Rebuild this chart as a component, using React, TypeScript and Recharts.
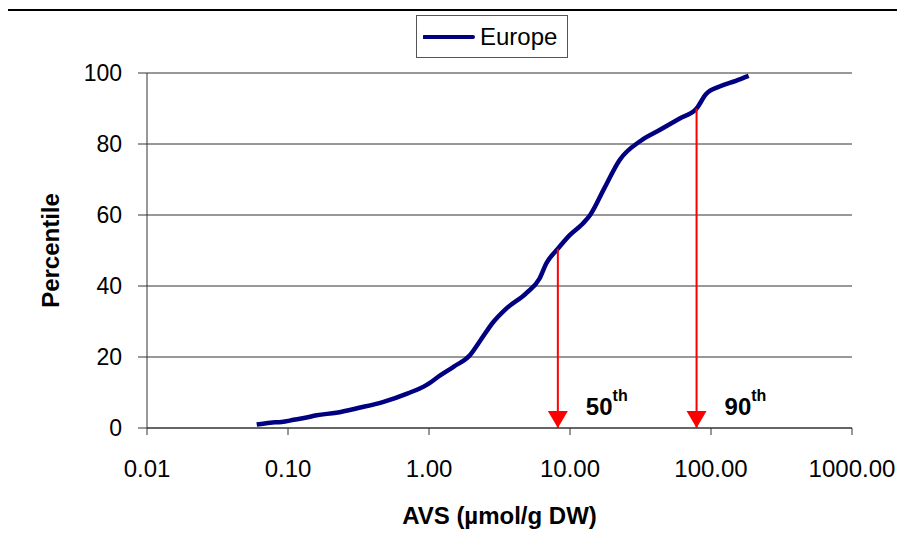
import {
  LineChart,
  Line,
  XAxis,
  YAxis,
  CartesianGrid,
  Legend,
  ReferenceLine,
  ReferenceDot,
} from "recharts";

// cumulative distribution
const avs = [
  0.06, 0.075, 0.09, 0.11, 0.13, 0.16, 0.22, 0.32, 0.47, 0.7, 0.95, 1.2, 1.5, 1.95,
  2.3, 2.85, 3.5, 4.9, 6.1, 6.8, 8.2, 10, 12.4, 13.9, 17.5, 22.5, 32, 43.5, 60, 79,
  92, 115, 150, 185,
];
const percentile = [
  1, 1.5, 1.7, 2.3, 2.8, 3.6, 4.3, 5.7, 7.3, 9.7, 12, 14.8, 17.3, 20.5,
  24.5, 29.8, 33.5, 38, 42.2, 46.4, 50.5, 54.4, 57.7, 60, 67.5, 75.5, 81, 84, 87.2, 90,
  94, 96.2, 97.8, 99.2,
];

const markerX = [8.2, 79];
const markerY = [50.5, 90];
const markerLabels = ["50", "90"];

const xTicks = [0.01, 0.1, 1, 10, 100, 1000];
const yTicks = [0, 20, 40, 60, 80, 100];

const data = avs.map((x, i) => ({ x, Europe: percentile[i] }));

const FONT = "'Liberation Sans', Arial, sans-serif";
const NAVY = "#000080";

function renderLegend() {
  return (
    <div
      style={{
        boxSizing: "border-box",
        width: 152,
        height: 43,
        border: "1px solid #555",
        display: "flex",
        alignItems: "center",
        paddingLeft: 6,
        fontFamily: FONT,
        fontSize: 24,
        background: "#fff",
      }}
    >
      <svg width={52} height={10} style={{ marginRight: 5 }}>
        <line x1={1} y1={5} x2={50} y2={5} stroke={NAVY} strokeWidth={4} strokeLinecap="round" />
      </svg>
      <span>Europe</span>
    </div>
  );
}

const arrowHead = (props: any) => (
  <path
    d={`M${props.cx - 10},${props.cy - 17} L${props.cx + 10},${props.cy - 17} L${props.cx},${props.cy} Z`}
    fill="#ff0000"
  />
);

const pctLabel = (label: string) => (props: any) => (
  <text x={props.cx + 28} y={props.cy - 13} fontFamily={FONT} fontWeight="bold" fill="#000">
    <tspan fontSize={24}>{label}</tspan>
    <tspan fontSize={16} dy={-14}>th</tspan>
  </text>
);

export default function App() {
  return (
    <div style={{ position: "relative", left: -8, top: -8, width: 905, height: 540, overflow: "hidden", background: "#fff" }}>
      <div
        style={{
          position: "absolute",
          left: 6,
          top: 9,
          width: 910,
          height: 540,
          borderLeft: "2px solid #000",
          borderTop: "2px solid #000",
        }}
      />
      <LineChart
        width={905}
        height={540}
        data={data}
        margin={{ top: 73, right: 53, bottom: 12, left: 37 }}
        style={{ position: "absolute", left: 0, top: 0 }}
      >
        <CartesianGrid vertical={false} stroke="#333" />
        <XAxis
          dataKey="x"
          type="number"
          scale="log"
          domain={[0.01, 1000]}
          ticks={xTicks}
          tickFormatter={(v: number) => v.toFixed(2)}
          allowDataOverflow
          height={100}
          tickSize={7}
          tickMargin={25}
          stroke="#333"
          tick={{ fill: "#000", fontSize: 24, fontFamily: FONT }}
          label={{
            value: "AVS (µmol/g DW)",
            position: "insideBottom",
            offset: 4,
            style: { fontFamily: FONT, fontSize: 24, fontWeight: "bold", fill: "#000" },
          }}
        />
        <YAxis
          type="number"
          domain={[0, 100]}
          ticks={yTicks}
          width={110}
          tickSize={9}
          tickMargin={16}
          stroke="#333"
          tick={{ fill: "#000", fontSize: 23, fontFamily: FONT }}
          label={{
            value: "Percentile",
            angle: -90,
            position: "center",
            dx: -42,
            style: { fontFamily: FONT, fontSize: 24, fontWeight: "bold", fill: "#000" },
          }}
        />
        <Legend
          layout="horizontal"
          verticalAlign="middle"
          align="center"
          content={renderLegend}
          wrapperStyle={{ position: "absolute", left: 416, top: 15, width: 152, height: 43 }}
        />
        <Line
          dataKey="Europe"
          type="monotone"
          stroke={NAVY}
          strokeWidth={4.5}
          dot={false}
          isAnimationActive={false}
        />
        {markerX.map((x, i) => (
          <ReferenceLine
            key={`l${i}`}
            segment={[
              { x, y: markerY[i] },
              { x, y: 0 },
            ]}
            stroke="#ff0000"
            strokeWidth={2}
          />
        ))}
        {markerX.map((x, i) => (
          <ReferenceDot key={`a${i}`} x={x} y={0} shape={arrowHead} />
        ))}
        {markerX.map((x, i) => (
          <ReferenceDot key={`t${i}`} x={x} y={0} shape={pctLabel(markerLabels[i])} />
        ))}
      </LineChart>
    </div>
  );
}
